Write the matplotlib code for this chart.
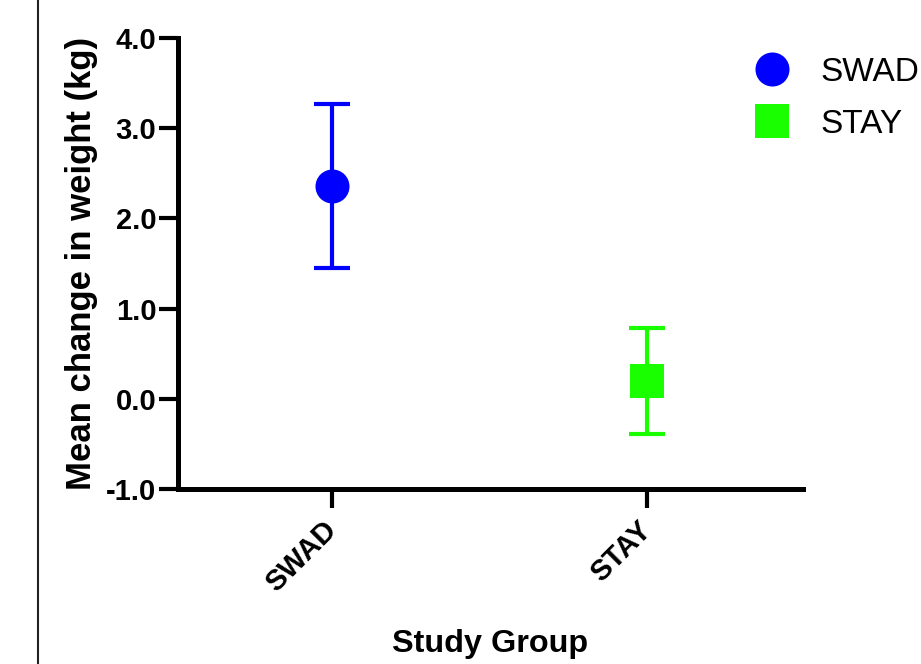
import matplotlib
matplotlib.use("Agg")
import matplotlib.pyplot as plt
from matplotlib.lines import Line2D

# ---- data ----
groups = ["SWAD", "STAY"]
means = [2.36, 0.20]
errors = [0.91, 0.59]
colors = ["#0000FF", "#1AFF00"]
markers = ["o", "s"]
yticks = [-1.0, 0.0, 1.0, 2.0, 3.0, 4.0]
ytick_labels = ["-1.0", "0.0", "1.0", "2.0", "3.0", "4.0"]
ylabel = "Mean change in weight (kg)"
xlabel = "Study Group"

plt.rcParams['font.family'] = ['Liberation Sans', 'DejaVu Sans']

W, H = 921, 664
fig = plt.figure(figsize=(W / 100, H / 100), dpi=100)
ax = fig.add_axes([178 / W, 1 - 489 / H, (803 - 178) / W, (489 - 38) / H])

xs = list(range(len(groups)))
msizes = [24.5, 24]
for x, m, e, c, mk, ms in zip(xs, means, errors, colors, markers, msizes):
    ax.errorbar([x], [m], yerr=[e], fmt='none', ecolor=c, elinewidth=3,
                capsize=13.3, capthick=3, zorder=2)
    ax.plot([x], [m], linestyle='none', marker=mk, markersize=ms,
            color=c, markeredgewidth=0, zorder=3)

ax.set_xlim(-0.49, 1.495)
ax.set_ylim(-1.0, 4.0)
ax.set_yticks(yticks)
ax.set_yticklabels(ytick_labels, fontsize=21, fontweight='bold')
ax.set_xticks(xs)
ax.set_xticklabels(groups, fontsize=21, fontweight='bold', rotation=45,
                   ha='right', va='center', rotation_mode='anchor')

for s in ['top', 'right']:
    ax.spines[s].set_visible(False)
for s in ['left', 'bottom']:
    ax.spines[s].set_linewidth(3.6)
    ax.spines[s].set_capstyle('projecting')
ax.tick_params(axis='both', width=3.0, length=13.5, pad=2)
ax.tick_params(axis='x', pad=13)

ax.set_ylabel(ylabel, fontsize=25, fontweight='bold', labelpad=6)
ax.set_xlabel(xlabel, fontsize=23.3, fontweight='bold')
ax.xaxis.set_label_coords(0.5, (489 - 629) / (489 - 38))

handles = [Line2D([], [], linestyle='none', marker=mk, markersize=ms,
                  color=c, markeredgewidth=0)
           for mk, c, ms in zip(markers, colors, msizes)]
fig.legend(handles, groups, loc='upper left',
           bbox_to_anchor=(747 / W, 1 - 57 / H), frameon=False,
           fontsize=24, handlelength=1.5, handletextpad=0.7,
           labelspacing=0.62, borderpad=0, borderaxespad=0)

fig.add_artist(Line2D([38 / W, 38 / W], [0, 1], transform=fig.transFigure,
                      color='#222222', linewidth=1.5))

fig.savefig("out.png", dpi=100)
